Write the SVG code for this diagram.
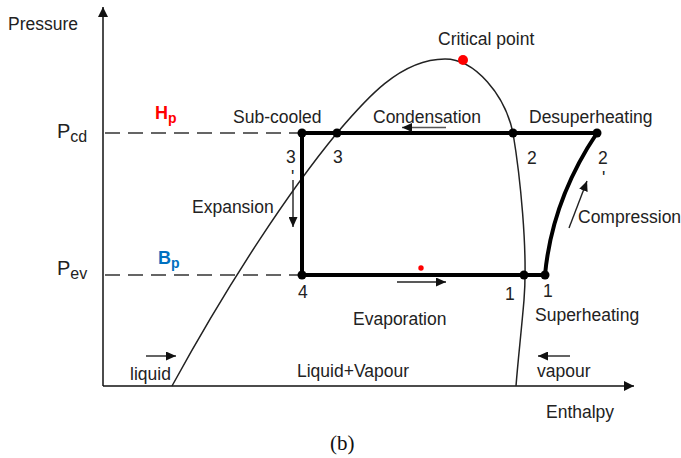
<svg xmlns="http://www.w3.org/2000/svg" width="681" height="458" viewBox="0 0 681 458">
<style>
text{font-family:"Liberation Sans",Arial,sans-serif;font-size:17.5px;fill:#222}
.axis{stroke:#111;stroke-width:1.5;fill:none}
.dash{stroke:#333;stroke-width:1.3;stroke-dasharray:15 8;fill:none}
.dome{stroke:#222;stroke-width:1.5;fill:none}
.cyc{stroke:#000;stroke-width:4;fill:none;stroke-linecap:round}
.arr{stroke:#222;stroke-width:1.4;fill:none;marker-end:url(#ah)}
.dot{fill:#000}
</style>
<defs>
<marker id="ah" markerUnits="userSpaceOnUse" markerWidth="11" markerHeight="9" refX="10" refY="4.5" orient="auto">
<path d="M0,0 L10,4.5 L0,9 z" fill="#111"/>
</marker>
<marker id="axh" markerUnits="userSpaceOnUse" markerWidth="11" markerHeight="11" refX="10" refY="5" orient="auto">
<path d="M0,0 L10,5 L0,10 z" fill="#111"/>
</marker>
</defs>
<rect width="681" height="458" fill="#fff"/>

<g id="axes">
<line class="axis" x1="103" y1="386" x2="103" y2="7" marker-end="url(#axh)"/>
<line class="axis" x1="103" y1="386" x2="634" y2="386" marker-end="url(#axh)"/>
<text x="8" y="30">Pressure</text>
<text x="546" y="418">Enthalpy</text>
<text x="57" y="138" style="font-size:20px">P<tspan dy="4" style="font-size:16px">cd</tspan></text>
<text x="57" y="275" style="font-size:20px">P<tspan dy="4" style="font-size:16px">ev</tspan></text>
<text x="155" y="119" style="font-weight:bold;font-size:18px;fill:#ff0000">H<tspan dy="4" style="font-size:14px">p</tspan></text>
<text x="158" y="264" style="font-weight:bold;font-size:18px;fill:#0070c0">B<tspan dy="4" style="font-size:14px">p</tspan></text>
</g>

<g id="connectors">
<line class="dash" x1="105" y1="133" x2="300" y2="133"/>
<line class="dash" x1="105" y1="275" x2="300" y2="275"/>
<path class="dome" d="M172,386 C230,280 290,190 337,133 C365,100 400,59 445,59 C475,59 505,95 513,133 C520,175 528,250 524,300 C521,335 518,360 516,386"/>
<path class="cyc" d="M597,133 L302,133 L302,275 L545,275"/>
<path class="cyc" d="M545,275 Q552,200 597,133"/>
<line class="arr" x1="446" y1="127.5" x2="402" y2="127.5" style="stroke:#555"/>
<line class="arr" x1="293" y1="180" x2="293" y2="227"/>
<line class="arr" x1="397" y1="282" x2="446" y2="282"/>
<line class="arr" x1="569" y1="228" x2="587" y2="181"/>
<line class="arr" x1="146" y1="356" x2="176" y2="356"/>
<line class="arr" x1="570" y1="356" x2="538" y2="356"/>
</g>

<g id="node-critical">
<circle cx="463" cy="60" r="5" fill="#ff0000"/>
<text x="438" y="45">Critical point</text>
</g>
<g id="node-3p">
<circle class="dot" cx="302" cy="133" r="4.5"/>
<text x="286" y="163">3</text>
<text x="291" y="183">'</text>
</g>
<g id="node-3">
<circle class="dot" cx="337" cy="133" r="4.5"/>
<text x="333" y="163">3</text>
</g>
<g id="node-2">
<circle class="dot" cx="513" cy="133" r="4.5"/>
<text x="527" y="164">2</text>
</g>
<g id="node-2p">
<circle class="dot" cx="597" cy="133" r="4.5"/>
<text x="598" y="164">2</text>
<text x="602" y="184">'</text>
</g>
<g id="node-4">
<circle class="dot" cx="302" cy="275" r="4.5"/>
<text x="298" y="298">4</text>
</g>
<g id="node-1">
<circle class="dot" cx="524" cy="275" r="4.5"/>
<text x="505" y="300">1</text>
</g>
<g id="node-1p">
<circle class="dot" cx="545" cy="275" r="4.5"/>
<text x="543" y="297">1</text>
</g>
<g id="evap-dot">
<circle cx="421" cy="268" r="2.7" fill="#ff0000"/>
</g>

<g id="labels">
<text x="233" y="123">Sub-cooled</text>
<text x="373" y="123">Condensation</text>
<text x="529" y="123">Desuperheating</text>
<text x="192" y="213">Expansion</text>
<text x="578" y="223">Compression</text>
<text x="353" y="325">Evaporation</text>
<text x="535" y="321">Superheating</text>
<text x="297" y="377">Liquid+Vapour</text>
<text x="130" y="380">liquid</text>
<text x="537" y="377">vapour</text>
<text x="330" y="450" style="font-family:'Liberation Serif','Times New Roman',serif;font-size:21px;fill:#111">(b)</text>
</g>
</svg>
